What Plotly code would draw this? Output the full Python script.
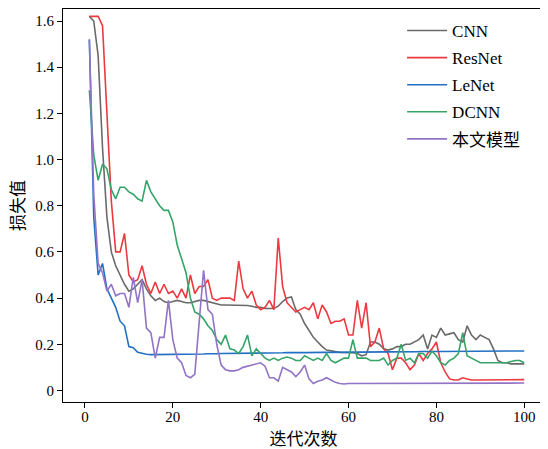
import plotly.graph_objects as go

iterations = list(range(1, 101))

cnn = [1.62, 1.60, 1.45, 1.05, 0.75, 0.60, 0.54, 0.50, 0.46, 0.43,
       0.44, 0.46, 0.48, 0.44, 0.41, 0.39, 0.40, 0.385, 0.38, 0.385,
       0.39, 0.385, 0.38, 0.38, 0.385, 0.39, 0.39, 0.385, 0.38, 0.375,
       0.37, 0.37, 0.37, 0.37, 0.37, 0.37, 0.368, 0.365, 0.36, 0.36,
       0.355, 0.355, 0.355, 0.365, 0.385, 0.40, 0.405, 0.35, 0.33, 0.29,
       0.26, 0.23, 0.21, 0.19, 0.175, 0.17, 0.168, 0.165, 0.165, 0.165,
       0.163, 0.16, 0.15, 0.155, 0.21, 0.21, 0.20, 0.18, 0.175, 0.18,
       0.19, 0.19, 0.20, 0.20, 0.21, 0.22, 0.24, 0.18, 0.24, 0.23,
       0.27, 0.24, 0.245, 0.25, 0.22, 0.21, 0.28, 0.24, 0.22, 0.24,
       0.23, 0.22, 0.18, 0.13, 0.12, 0.12, 0.115, 0.115, 0.115, 0.115]

resnet = [1.62, 1.62, 1.62, 1.58, 1.20, 0.82, 0.60, 0.60, 0.68, 0.50,
          0.47, 0.48, 0.54, 0.46, 0.42, 0.47, 0.42, 0.46, 0.42, 0.43,
          0.40, 0.44, 0.40, 0.50, 0.42, 0.45, 0.45, 0.48, 0.40, 0.39,
          0.40, 0.40, 0.40, 0.39, 0.56, 0.44, 0.40, 0.43, 0.37, 0.35,
          0.36, 0.39, 0.35, 0.66, 0.45, 0.38, 0.36, 0.34, 0.35, 0.36,
          0.35, 0.38, 0.31, 0.37, 0.34, 0.29, 0.30, 0.30, 0.31, 0.24,
          0.24, 0.39, 0.27, 0.38, 0.19, 0.21, 0.27, 0.18, 0.16, 0.09,
          0.14, 0.14, 0.12, 0.09, 0.11, 0.16, 0.13, 0.16, 0.18, 0.21,
          0.12, 0.08, 0.05, 0.045, 0.045, 0.055, 0.05, 0.045, 0.045, 0.045,
          0.045, 0.045, 0.045, 0.047, 0.047, 0.047, 0.047, 0.047, 0.047, 0.047]

lenet = [1.52, 0.75, 0.50, 0.55, 0.44, 0.40, 0.36, 0.30, 0.28, 0.19,
         0.185, 0.165, 0.16, 0.157, 0.155, 0.155, 0.156, 0.155, 0.156, 0.157,
         0.157, 0.156, 0.157, 0.158, 0.157, 0.158, 0.158, 0.159, 0.158, 0.159,
         0.16, 0.16, 0.161, 0.16, 0.161, 0.161, 0.162, 0.161, 0.162, 0.162,
         0.163, 0.162, 0.163, 0.163, 0.163, 0.164, 0.163, 0.164, 0.164, 0.164,
         0.165, 0.164, 0.165, 0.165, 0.165, 0.165, 0.166, 0.165, 0.166, 0.166,
         0.166, 0.166, 0.167, 0.166, 0.167, 0.167, 0.167, 0.167, 0.167, 0.168,
         0.167, 0.168, 0.168, 0.168, 0.168, 0.168, 0.169, 0.168, 0.169, 0.169,
         0.169, 0.169, 0.169, 0.17, 0.169, 0.17, 0.17, 0.17, 0.17, 0.17,
         0.17, 0.171, 0.17, 0.171, 0.171, 0.171, 0.171, 0.171, 0.171, 0.171]

dcnn = [1.30, 1.02, 0.91, 0.98, 0.96, 0.87, 0.83, 0.88, 0.88, 0.86,
        0.85, 0.83, 0.82, 0.91, 0.86, 0.83, 0.80, 0.78, 0.78, 0.73,
        0.63, 0.57, 0.51, 0.40, 0.34, 0.33, 0.31, 0.28, 0.26, 0.22,
        0.20, 0.24, 0.18, 0.175, 0.16, 0.19, 0.24, 0.15, 0.18, 0.16,
        0.14, 0.13, 0.14, 0.13, 0.14, 0.145, 0.14, 0.13, 0.13, 0.15,
        0.14, 0.13, 0.14, 0.13, 0.16, 0.13, 0.12, 0.13, 0.14, 0.14,
        0.22, 0.14, 0.14, 0.14, 0.13, 0.13, 0.13, 0.14, 0.11, 0.13,
        0.14, 0.20, 0.13, 0.14, 0.12, 0.16, 0.16, 0.14, 0.17, 0.15,
        0.12, 0.11, 0.13, 0.14, 0.16, 0.25, 0.15, 0.14, 0.13, 0.12,
        0.12, 0.12, 0.12, 0.12, 0.12, 0.12, 0.125, 0.13, 0.13, 0.12]

ours = [1.52, 0.85, 0.55, 0.51, 0.43, 0.46, 0.41, 0.42, 0.42, 0.36,
        0.49, 0.38, 0.48, 0.27, 0.25, 0.14, 0.23, 0.23, 0.39, 0.22,
        0.14, 0.12, 0.065, 0.055, 0.07, 0.30, 0.52, 0.35, 0.33, 0.20,
        0.11, 0.09, 0.085, 0.085, 0.09, 0.10, 0.105, 0.11, 0.115, 0.12,
        0.105, 0.055, 0.055, 0.04, 0.10, 0.09, 0.08, 0.06, 0.08, 0.11,
        0.05, 0.03, 0.04, 0.045, 0.055, 0.045, 0.035, 0.03, 0.028, 0.03,
        0.03, 0.031, 0.03, 0.03, 0.03, 0.03, 0.03, 0.03, 0.03, 0.03,
        0.03, 0.03, 0.03, 0.03, 0.031, 0.031, 0.031, 0.031, 0.031, 0.031,
        0.031, 0.031, 0.031, 0.031, 0.031, 0.031, 0.031, 0.031, 0.032, 0.032,
        0.032, 0.032, 0.032, 0.032, 0.032, 0.032, 0.032, 0.032, 0.032, 0.032]

series_names = ["CNN", "ResNet", "LeNet", "DCNN", "本文模型"]
series_values = [cnn, resnet, lenet, dcnn, ours]
colors = ["#6a6a6a", "#ec3a40", "#2270c4", "#36a468", "#9273c6"]

x_ticks = [0, 20, 40, 60, 80, 100]
y_ticks = [0, 0.2, 0.4, 0.6, 0.8, 1.0, 1.2, 1.4, 1.6]
y_tick_text = ["0", "0.2", "0.4", "0.6", "0.8", "1.0", "1.2", "1.4", "1.6"]

FONT = "Liberation Serif, Times New Roman, Noto Sans CJK SC, serif"

fig = go.Figure()
for name, vals, col in zip(series_names, series_values, colors):
    fig.add_trace(go.Scatter(x=iterations, y=vals, mode="lines", name=name,
                             legendgroup=name,
                             line=dict(color=col, width=1.6)))

# page body has an 8px margin, so the figure is 540x441 to fill 548x449
fig.update_layout(
    width=540, height=441,
    margin=dict(l=55, r=4, t=1, b=47),
    paper_bgcolor="white", plot_bgcolor="white",
    font=dict(family=FONT, size=15, color="black"),
    showlegend=True,
    legend=dict(x=0.705, y=0.99, xanchor="left", yanchor="top",
                bgcolor="rgba(0,0,0,0)", borderwidth=0,
                font=dict(family=FONT, size=17, color="black"),
                itemwidth=40, tracegroupgap=2),
)
fig.update_xaxes(range=[-5, 104.5], tickvals=x_ticks, ticks="outside", ticklen=5,
                 tickwidth=1, tickcolor="black", showline=True, linecolor="black",
                 linewidth=1, mirror=True, showgrid=False, zeroline=False,
                 ticklabelstandoff=-4,
                 title=dict(text="迭代次数", font=dict(family=FONT, size=17), standoff=9),
                 tickfont=dict(size=15))
fig.update_yaxes(range=[-0.05, 1.652], tickvals=y_ticks, ticktext=y_tick_text,
                 ticks="outside", ticklen=5, tickwidth=1, tickcolor="black",
                 showline=True, linecolor="black", linewidth=1, mirror=True,
                 showgrid=False, zeroline=False,
                 title=dict(text="损失值", font=dict(family=FONT, size=17), standoff=6),
                 tickfont=dict(size=15))

fig.write_html("out.html")
